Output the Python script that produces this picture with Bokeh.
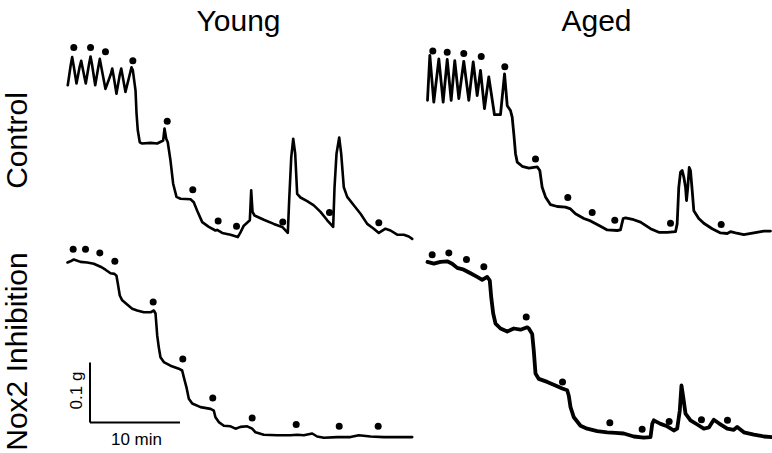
import numpy as np
from bokeh.plotting import figure
from bokeh.models import Range1d
from bokeh.embed import file_html
from bokeh.resources import INLINE
from bokeh.core.properties import value

# ---------------- data (time in min, tension in g above row baseline) ----------------
young_control_t = [0.03, 0.35, 0.52, 0.68, 1.00, 1.35, 1.52, 1.68, 2.03, 2.40, 2.56, 2.72, 3.08, 3.43, 3.59, 3.76,
                   4.22, 4.80, 4.97, 5.12, 5.44, 5.80, 5.97, 6.12, 6.44, 6.95, 7.11, 7.26, 7.56,
                   7.67, 7.81, 8.03, 8.30, 9.22, 9.97, 10.63, 10.78, 10.97, 11.14, 11.44, 11.74, 12.11, 12.56,
                   13.67, 14.03, 14.41, 14.97, 15.70, 16.44, 16.63, 17.19, 18.11, 18.92, 19.22, 19.59, 20.26,
                   20.41, 20.56, 20.78, 21.81, 22.92, 23.86, 24.48, 24.63, 24.86, 25.08, 25.30, 25.52, 25.89,
                   26.63, 27.37, 28.11, 28.86, 29.52, 29.67, 29.89, 30.19, 30.41, 30.70, 31.08, 31.81, 32.56,
                   33.30, 34.03, 34.59, 35.33, 35.89, 36.63, 37.37, 37.92, 38.30]
young_control_g = [0.267, 0.300, 0.314, 0.300, 0.270, 0.298, 0.308, 0.296, 0.270, 0.303, 0.315, 0.302, 0.267,
                   0.298, 0.311, 0.297, 0.261, 0.285, 0.295, 0.283, 0.253, 0.284, 0.295, 0.283, 0.256, 0.287,
                   0.297, 0.292, 0.258, 0.220, 0.192, 0.172, 0.170, 0.171, 0.170, 0.175, 0.195, 0.178, 0.172,
                   0.142, 0.103, 0.081, 0.078, 0.077, 0.072, 0.058, 0.039, 0.031, 0.025, 0.026, 0.021, 0.018,
                   0.014, 0.022, 0.033, 0.042, 0.092, 0.056, 0.050, 0.043, 0.036, 0.031, 0.021, 0.075, 0.147,
                   0.178, 0.153, 0.086, 0.080, 0.074, 0.067, 0.056, 0.042, 0.031, 0.097, 0.153, 0.180, 0.153,
                   0.097, 0.081, 0.067, 0.053, 0.036, 0.028, 0.021, 0.028, 0.025, 0.018, 0.018, 0.015, 0.011]
young_control_dot_t = [0.70, 2.56, 4.22, 7.26, 11.08, 13.92, 16.74, 18.78, 23.92, 29.11, 34.59]
young_control_dot_g = [0.330, 0.330, 0.323, 0.308, 0.207, 0.093, 0.041, 0.032, 0.039, 0.055, 0.038]

aged_control_t = [0.00, 0.26, 0.70, 1.26, 1.74, 2.19, 2.63, 3.03, 3.48, 4.03, 4.59, 5.08, 5.52, 5.89, 6.33, 6.81,
                  7.44, 8.11, 8.56, 8.86, 9.22, 9.41, 9.59, 9.78, 9.97, 10.52, 11.26, 12.19, 12.48, 12.74, 13.11,
                  13.67, 14.41, 15.33, 15.89, 16.44, 17.37, 18.11, 19.22, 19.97, 21.08, 21.44, 21.74, 22.00,
                  22.92, 23.67, 24.78, 25.70, 26.63, 27.56, 27.74, 27.92, 28.11, 28.30, 28.48, 28.67, 28.78,
                  28.92, 29.08, 29.22, 29.41, 29.59, 30.14, 30.70, 31.63, 32.56, 33.30, 33.67, 34.22, 35.15,
                  36.26, 37.37, 38.11]
aged_control_g = [0.242, 0.317, 0.239, 0.311, 0.239, 0.310, 0.242, 0.308, 0.245, 0.307, 0.242, 0.306, 0.250,
                  0.292, 0.228, 0.281, 0.218, 0.218, 0.286, 0.233, 0.225, 0.214, 0.186, 0.153, 0.139, 0.132,
                  0.129, 0.131, 0.125, 0.097, 0.081, 0.068, 0.065, 0.064, 0.061, 0.053, 0.045, 0.041, 0.032,
                  0.026, 0.025, 0.026, 0.045, 0.046, 0.043, 0.039, 0.028, 0.022, 0.022, 0.023, 0.036, 0.097,
                  0.122, 0.125, 0.114, 0.097, 0.075, 0.097, 0.130, 0.125, 0.092, 0.058, 0.045, 0.037, 0.028,
                  0.021, 0.020, 0.023, 0.021, 0.018, 0.021, 0.024, 0.024]
aged_control_dot_t = [0.59, 2.19, 4.03, 5.97, 8.59, 12.00, 15.59, 18.30, 20.81, 27.00, 32.63]
aged_control_dot_g = [0.324, 0.322, 0.320, 0.315, 0.298, 0.144, 0.080, 0.055, 0.042, 0.037, 0.035]

young_nox2_t = [0.00, 0.33, 0.70, 1.44, 2.19, 2.92, 3.67, 4.22, 4.78, 5.22, 5.44, 5.59, 5.81, 6.08, 6.63, 7.19,
                7.74, 8.48, 9.22, 9.59, 9.78, 9.97, 10.14, 10.33, 10.70, 11.44, 12.37, 12.74, 12.92, 13.22,
                13.48, 13.86, 14.78, 15.89, 16.26, 16.44, 16.81, 17.37, 18.11, 18.67, 19.22, 19.97, 20.52,
                20.89, 21.81, 23.30, 24.78, 25.52, 26.26, 27.19, 27.74, 28.48, 29.97, 31.44, 32.37, 33.67,
                35.15, 36.63, 38.30]
young_nox2_g = [0.305, 0.307, 0.310, 0.306, 0.305, 0.303, 0.298, 0.293, 0.287, 0.286, 0.283, 0.270, 0.250,
                0.242, 0.235, 0.228, 0.225, 0.222, 0.222, 0.225, 0.220, 0.183, 0.164, 0.147, 0.139, 0.133,
                0.128, 0.125, 0.114, 0.097, 0.078, 0.070, 0.064, 0.061, 0.058, 0.047, 0.039, 0.033, 0.032,
                0.028, 0.031, 0.032, 0.028, 0.022, 0.018, 0.017, 0.017, 0.018, 0.017, 0.020, 0.015, 0.013,
                0.014, 0.014, 0.017, 0.015, 0.014, 0.014, 0.014]
young_nox2_dot_t = [0.63, 2.00, 3.59, 5.26, 9.52, 12.81, 16.14, 20.52, 25.41, 30.19, 34.52]
young_nox2_dot_g = [0.327, 0.327, 0.321, 0.307, 0.239, 0.144, 0.079, 0.046, 0.035, 0.032, 0.032]

aged_nox2_t = [0.00, 0.70, 1.44, 2.19, 2.74, 3.30, 4.03, 4.78, 5.52, 6.08, 6.63, 6.92, 7.08, 7.30, 7.56, 8.11,
               8.86, 9.59, 10.33, 11.08, 11.26, 11.63, 11.81, 12.00, 12.37, 13.30, 14.22, 14.97, 15.52, 15.70,
               15.89, 16.26, 17.00, 17.74, 18.86, 19.97, 20.89, 21.81, 22.92, 24.03, 24.78, 24.97, 25.15,
               25.89, 26.63, 27.37, 27.74, 28.03, 28.22, 28.41, 28.67, 29.22, 29.97, 30.70, 31.26, 31.81,
               32.37, 33.30, 34.03, 34.41, 35.15, 36.26, 37.37, 38.30]
aged_nox2_g = [0.306, 0.303, 0.306, 0.307, 0.303, 0.296, 0.293, 0.287, 0.281, 0.276, 0.281, 0.275, 0.247,
               0.220, 0.203, 0.195, 0.190, 0.195, 0.193, 0.197, 0.195, 0.186, 0.158, 0.120, 0.111, 0.106,
               0.100, 0.095, 0.092, 0.083, 0.064, 0.047, 0.033, 0.028, 0.024, 0.022, 0.021, 0.020, 0.015,
               0.013, 0.014, 0.036, 0.042, 0.036, 0.032, 0.025, 0.028, 0.058, 0.100, 0.081, 0.053, 0.042,
               0.035, 0.028, 0.030, 0.043, 0.037, 0.028, 0.026, 0.031, 0.022, 0.018, 0.015, 0.014]
aged_nox2_dot_t = [0.52, 2.37, 4.33, 6.26, 10.97, 15.00, 20.26, 23.85, 26.85, 30.44, 33.33]
aged_nox2_dot_g = [0.318, 0.321, 0.310, 0.298, 0.214, 0.106, 0.038, 0.027, 0.040, 0.043, 0.042]

column_labels = ["Young", "Aged"]
row_labels = ["Control", "Nox2 Inhibition"]
scale_time_min = 10
scale_tension_g = 0.1
scale_time_label = "10 min"
scale_tension_label = "0.1 g"

# ---------------- layout helpers (page pixel -> data units) ----------------
PX_PER_MIN = 9.0
PX_PER_G = 600.0
W, H = 772, 453


def fx(px):
    return px / PX_PER_MIN


def fy(py):
    return (H - py) / PX_PER_G


p = figure(width=W, height=H, x_range=Range1d(0, W / PX_PER_MIN), y_range=Range1d(0, H / PX_PER_G),
           output_backend="svg", toolbar_location=None, min_border=0,
           x_axis_location=None, y_axis_location=None, outline_line_color=None,
           background_fill_color="white", border_fill_color="white")
p.xgrid.visible = False
p.ygrid.visible = False

col_x = [fx(67), fx(427)]
row_y = [fy(245), fy(445)]

traces = [
    (young_control_t, young_control_g, young_control_dot_t, young_control_dot_g, 0, 0, 2.6),
    (aged_control_t, aged_control_g, aged_control_dot_t, aged_control_dot_g, 1, 0, 2.8),
    (young_nox2_t, young_nox2_g, young_nox2_dot_t, young_nox2_dot_g, 0, 1, 2.6),
    (aged_nox2_t, aged_nox2_g, aged_nox2_dot_t, aged_nox2_dot_g, 1, 1, 3.8),
]
for t, g, dt, dg, c, r, lw in traces:
    p.line(np.array(t) + col_x[c], np.array(g) + row_y[r], line_width=lw, color="black",
           line_join="round", line_cap="round")
    p.scatter(np.array(dt) + col_x[c], np.array(dg) + row_y[r], size=7, color="black", line_width=0)

font = value("Liberation Sans")
# column titles
p.text(x=[fx(238), fx(596)], y=[fy(19.5), fy(19.5)], text=column_labels, text_font=font,
       text_font_size="30px", text_align="center", text_baseline="alphabetic", text_color="black")
# row labels (rotated)
p.text(x=[fx(16), fx(16)], y=[fy(140), fy(351)], text=row_labels, text_font=font,
       text_font_size="30px", text_align="center", text_baseline="middle", angle=np.pi / 2,
       text_color="black")

# scale bar
sx, sy = fx(89.5), fy(422)
p.line([sx, sx], [sy, sy + scale_tension_g], line_width=2, color="black")
p.line([sx, sx + scale_time_min], [sy, sy], line_width=2, color="black")
p.text(x=[fx(76)], y=[fy(390)], text=[scale_tension_label], text_font=font, text_font_size="17px",
       text_align="center", text_baseline="alphabetic", angle=np.pi / 2, text_color="black")
p.text(x=[fx(136)], y=[fy(439)], text=[scale_time_label], text_font=font, text_font_size="17px",
       text_align="center", text_baseline="alphabetic", text_color="black")

open("out.html", "w").write(file_html(p, INLINE))
